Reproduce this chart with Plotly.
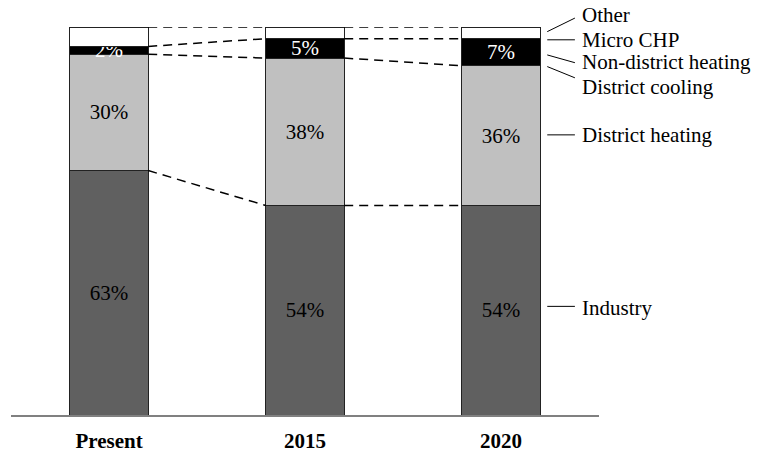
import plotly.graph_objects as go
import numpy as np

categories = ["Present", "2015", "2020"]
industry = [63, 54, 54]
district_heating = [30, 38, 36]
non_district_heating = [2, 5, 7]
other = [5, 3, 3]

series = [
    ("Industry", industry, "#606060", "black"),
    ("District heating", district_heating, "#c0c0c0", "black"),
    ("Non-district heating", non_district_heating, "#000000", "white"),
    ("Other", other, "#ffffff", "black"),
]

FONT = "Liberation Serif, Times New Roman, serif"
FS = 21
BAR_W = 0.4
xs = np.arange(len(categories))

fig = go.Figure()
for name, vals, color, tcolor in series:
    fig.add_trace(go.Bar(
        x=xs, y=vals, name=name, width=BAR_W,
        marker=dict(color=color, line=dict(color="#222222", width=1)),
        text=[f"{v}%" if name != "Other" else "" for v in vals],
        textposition="inside", insidetextanchor="middle",
        constraintext="none",
        textfont=dict(family=FONT, size=FS, color=tcolor),
        hoverinfo="skip",
    ))

# dashed connectors between segment boundaries
levels = np.cumsum(np.array([s[1] for s in series]), axis=0)
for lev in levels:
    for i in range(len(categories) - 1):
        fig.add_shape(type="line", xref="x", yref="y",
                      x0=xs[i] + BAR_W / 2, y0=lev[i],
                      x1=xs[i + 1] - BAR_W / 2, y1=lev[i + 1],
                      line=dict(color="black", width=1.5, dash="9px,6px"),
                      layer="above")

# right-side labels with leader lines (paper units)
labels = [
    ("Other", 0.988, 1.023, 1.030),
    ("Micro CHP", 0.967, 0.967, 0.966),
    ("Non-district heating", 0.928, 0.908, 0.909),
    ("District cooling", 0.898, 0.869, 0.846),
    ("District heating", 0.722, 0.722, 0.722),
    ("Industry", 0.280, 0.280, 0.276),
]
lx0, lx1, tx = 0.912, 0.959, 0.967
for text, y0, y1, ty in labels:
    fig.add_shape(type="line", xref="paper", yref="paper", x0=lx0, y0=y0, x1=lx1, y1=y1,
                  line=dict(color="black", width=1))
    fig.add_annotation(x=tx, y=ty, xref="paper", yref="paper", text=text, showarrow=False,
                       xanchor="left", yanchor="middle",
                       font=dict(family=FONT, size=FS, color="black"))

fig.update_layout(
    barmode="stack",
    width=760, height=458,
    margin=dict(l=11, r=161, t=27, b=43, autoexpand=False),
    paper_bgcolor="white", plot_bgcolor="white",
    showlegend=False,
    font=dict(family=FONT, color="black"),
)
fig.update_xaxes(range=[-0.5, 2.5], tickvals=xs, ticktext=[f"<b>{c}</b>" for c in categories],
                 showline=True, linecolor="#808080", linewidth=2, showgrid=False,
                 zeroline=False, ticks="", ticklabelstandoff=6, automargin=False,
                 tickfont=dict(family=FONT, size=FS, color="black"))
fig.update_yaxes(range=[0, 100], visible=False, showgrid=False, zeroline=False, automargin=False)

fig.write_html("out.html", config={"displayModeBar": False},
               post_script="document.body.style.margin='0';")
